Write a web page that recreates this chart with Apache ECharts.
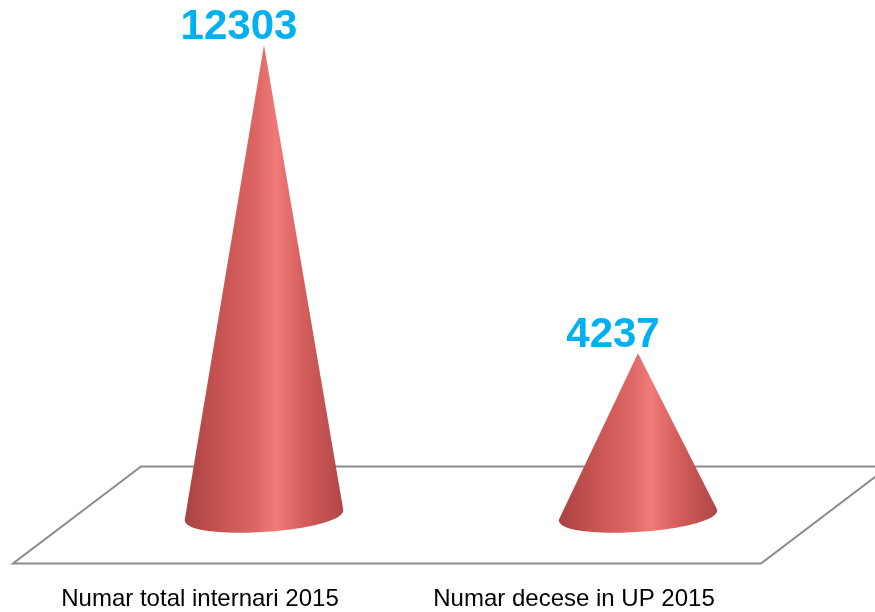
<!DOCTYPE html>
<html>
<head>
<meta charset="utf-8">
<script src="https://cdn.jsdelivr.net/npm/echarts@6/dist/echarts.min.js"></script>
<style>
  html, body { margin: 0; padding: 0; background: #fff; }
  #chart { width: 875px; height: 612px; }
</style>
</head>
<body>
<div id="chart"></div>
<script>
var categories = ['Numar total internari 2015', 'Numar decese in UP 2015'];
var values = [12303, 4237];

var myChart = echarts.init(document.getElementById('chart'));

var coneFill = new echarts.graphic.LinearGradient(0, 0, 1, 0, [
    {offset: 0, color: '#a84242'},
    {offset: 0.2, color: '#c45250'},
    {offset: 0.45, color: '#dc6664'},
    {offset: 0.58, color: '#ef7a78'},
    {offset: 0.75, color: '#d45e5c'},
    {offset: 1, color: '#b04646'}
]);

// floor plane under the cones
function renderFloor(params, api) {
    var cs = params.coordSys;
    var y0 = api.coord([0, 0])[1];
    var dx = 64, dy = 48.5;
    var pts = [
        [cs.x + dx, y0 - dy],
        [cs.x + cs.width + dx, y0 - dy],
        [cs.x + cs.width - dx, y0 + dy],
        [cs.x - dx, y0 + dy]
    ];
    return {
        type: 'polygon',
        shape: {points: pts},
        style: {fill: '#fff', stroke: '#8a8a8a', lineWidth: 2}
    };
}

function renderCone(params, api) {
    var idx = api.value(0);
    var val = api.value(1);
    var top = api.coord([idx, val]);
    var base = api.coord([idx, 0]);
    var band = api.size([1, 0])[0];
    var rx = band * 0.212, ry = 17;
    var lx = base[0] - rx, ly = base[1] + 5;
    var rX = base[0] + rx, rY = base[1] - 5;
    var d = 'M' + top[0] + ' ' + top[1] +
        ' L' + lx + ' ' + ly +
        ' C' + lx + ' ' + (ly + ry * 1.33) + ' ' + rX + ' ' + (rY + ry * 1.33) + ' ' + rX + ' ' + rY +
        ' Z';
    return {
        type: 'group',
        children: [
            {
                type: 'path',
                shape: {pathData: d},
                style: {fill: coneFill}
            },
            {
                type: 'text',
                x: top[0] - 25,
                y: top[1] - 18,
                style: {
                    text: String(val),
                    fill: '#00b0f0',
                    font: 'bold 42px "Liberation Sans", Arial, sans-serif',
                    align: 'center',
                    verticalAlign: 'middle'
                }
            },
            {
                type: 'text',
                x: base[0] - 64,
                y: base[1] + 84,
                style: {
                    text: categories[idx],
                    fill: '#000',
                    font: '24px "Liberation Sans", Arial, sans-serif',
                    align: 'center',
                    verticalAlign: 'middle'
                }
            }
        ]
    };
}

var option = {
    animation: false,
    grid: {left: 77, right: 50, top: 18.4, bottom: 97},
    xAxis: {
        type: 'category',
        data: categories,
        show: false
    },
    yAxis: {
        type: 'value',
        min: 0,
        max: 13000,
        show: false,
        splitLine: {show: false}
    },
    series: [
        {
            type: 'custom',
            renderItem: renderFloor,
            data: [[0, 0]],
            silent: true,
            z: 1
        },
        {
            type: 'custom',
            renderItem: renderCone,
            data: values.map(function (v, i) { return [i, v]; }),
            z: 2
        }
    ]
};
myChart.setOption(option);
</script>
</body>
</html>
